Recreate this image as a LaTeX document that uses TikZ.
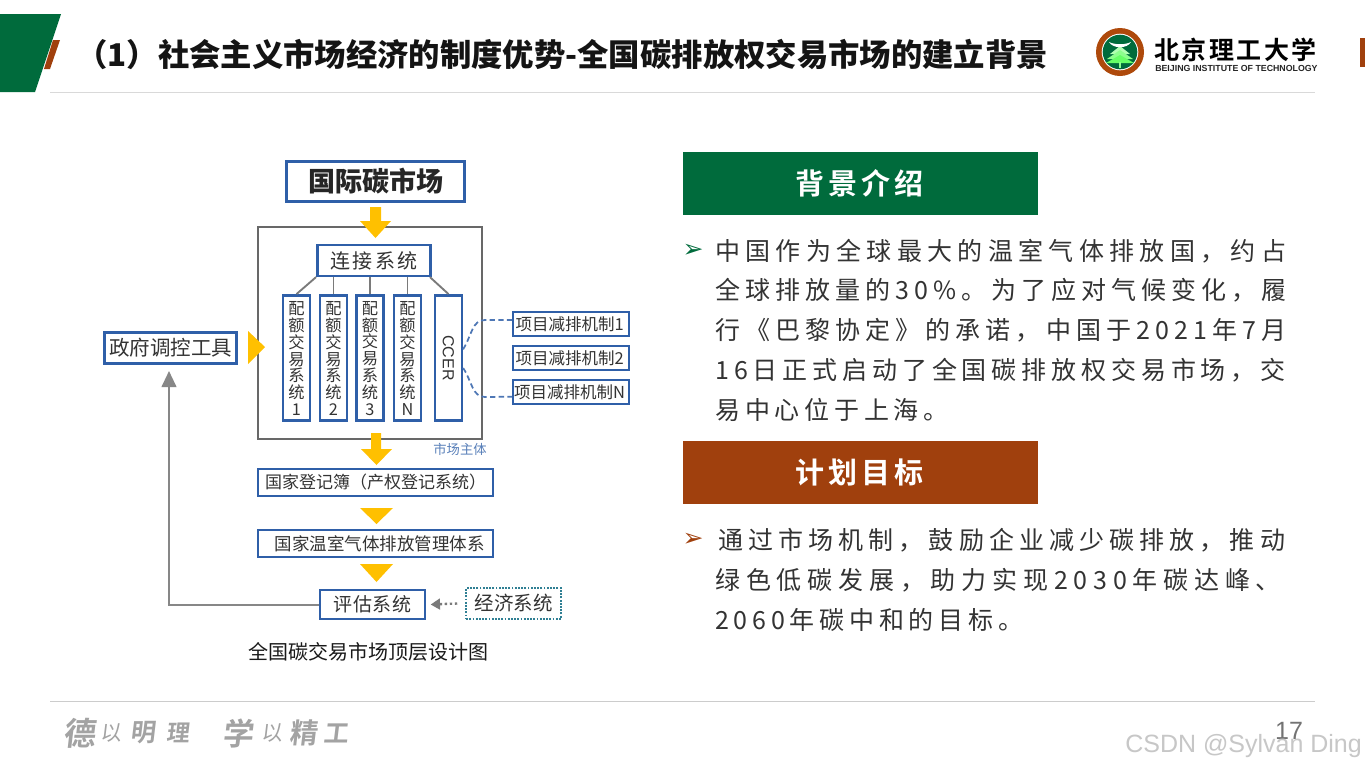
\documentclass[tikz,border=0pt]{standalone}
\usepackage{fontspec}
\usetikzlibrary{arrows.meta}
\setmainfont{Noto Sans CJK SC}
\newfontfamily\bodyf{Noto Sans CJK SC}
\newfontfamily\tabf[LetterSpace=13,BoldFont={Noto Sans CJK SC Bold}]{Noto Sans CJK SC}
\newfontfamily\brushf[FakeSlant=0.12,BoldFont={Noto Sans CJK SC Bold}]{Noto Sans CJK SC}
\newfontfamily\logof[LetterSpace=10,BoldFont={Noto Sans CJK SC Bold}]{Noto Sans CJK SC}
\newfontfamily\latinf{Liberation Sans}
\newfontfamily\symf{DejaVu Sans}
\definecolor{bitgreen}{HTML}{006B3C}
\definecolor{bitbrown}{HTML}{A0400D}
\definecolor{boxblue}{HTML}{2F5FA8}
\definecolor{arrowyellow}{HTML}{FFC000}
\definecolor{linegray}{HTML}{7A7A7A}
\definecolor{dotteal}{HTML}{2F7F93}
\definecolor{inkgray}{HTML}{333333}
\newcommand{\px}[1]{\fontsize{\fpeval{#1*0.75}pt}{\fpeval{#1*0.75*1.05}pt}\selectfont}
\newcommand{\lsp}[1]{\addfontfeature{LetterSpace=#1}}
\tikzset{
  x=0.75pt,y=-0.75pt,
  bluebox/.style={draw=boxblue,line width=1.9pt,fill=white,inner sep=0pt,align=center,text=inkgray},
  colbox/.style={bluebox,minimum width=20pt,minimum height=94pt},
  coltext/.style={inner sep=0pt,align=center,text=inkgray,font=\fontsize{12.2pt}{12.7pt}\selectfont},
  mechbox/.style={bluebox,line width=1.6pt,minimum width=86.6pt,minimum height=17.6pt,font=\px{16.5}},
  widebox/.style={bluebox,line width=1.4pt,minimum width=176pt,minimum height=20.25pt},
  link/.style={draw=linegray,line width=1.4pt},
  yellowshape/.style={fill=arrowyellow,draw=none},
  bodyline/.style={anchor=west,inner sep=0pt,font=\bodyf\px{25},text=inkgray},
  tabbox/.style={inner sep=0pt,minimum width=266.25pt,minimum height=47pt,text=white,font=\tabf\bfseries\px{29}},
  dashlink/.style={draw=boxblue!85,line width=1.3pt,dash pattern=on 4pt off 2.5pt},
  brush/.style={inner sep=0pt,text=black!36}
}
\begin{document}
\begin{tikzpicture}
\useasboundingbox (0,0) rectangle (1365,768);
\fill[white] (0,0) rectangle (1365,768);
% header
\fill[bitgreen] (0,14) -- (61,14) -- (35,92) -- (0,92) -- cycle;
\fill[bitbrown] (53,40) -- (60,40) -- (50,69) -- (44,69) -- cycle;
\fill[bitbrown] (1360,38) rectangle (1365,67);
\draw[black!15,line width=0.75pt] (50,92.5) -- (1315,92.5);
\draw[black!20,line width=0.75pt] (50,701.5) -- (1315,701.5);
\node[anchor=west,inner sep=0pt,font=\bfseries\px{31.35},text=black!92] (title) at (76,54) {（1）社会主义市场经济的制度优势-全国碳排放权交易市场的建立背景};
% logo
\fill[bitbrown!85!orange] (1120,52) circle (24);
\fill[white] (1120,52) circle (18.3);
\fill[bitgreen] (1120,52) circle (17.3);
\fill[green!30!white] (1120,46) -- (1110,54) -- (1130,54) -- cycle;
\fill[green!45!white] (1120,50) -- (1107,59) -- (1133,59) -- cycle;
\fill[green!60!white] (1120,55) -- (1106,63) -- (1134,63) -- cycle;
\fill[green!45!white] (1118.8,62) rectangle (1121.2,68);
\fill[white] (1109,42) .. controls (1115,45) and (1125,45) .. (1131,42) .. controls (1127,49) and (1113,49) .. (1109,42) -- cycle;
\node[anchor=west,inner sep=0pt,font=\logof\bfseries\px{25},text=black] (logotext) at (1154,50) {北京理工大学};
\node[anchor=west,inner sep=0pt,font=\latinf\bfseries\px{8.8},text=black!85] (logolatin) at (1155,68.5) {BEIJING INSTITUTE OF TECHNOLOGY};
% diagram
\node[bluebox,line width=2.2pt,minimum width=133.5pt,minimum height=30pt,font=\bfseries\px{27},text=black!85] (intl) at (375.5,181.5) {国际碳市场};
\node[draw=linegray!85!black,line width=1.5pt,minimum width=168.6pt,minimum height=159.6pt,inner sep=0pt] (market) at (370,333) {};
\node[bluebox,minimum width=85pt,minimum height=23pt,font=\px{20}] (connect) at (374,260.5) {\lsp{12}连接系统};
\node[colbox] (c1) at (296.5,358) {};
\node[colbox] (c2) at (333.5,358) {};
\node[colbox] (c3) at (370,358) {};
\node[colbox] (c4) at (407.5,358) {};
\node[coltext] (t1) at (296.5,358.5) {配\\额\\交\\易\\系\\统\\1};
\node[coltext] (t2) at (333.5,358.5) {配\\额\\交\\易\\系\\统\\2};
\node[coltext] (t3) at (370,358.5) {配\\额\\交\\易\\系\\统\\3};
\node[coltext] (t4) at (407.5,358.5) {配\\额\\交\\易\\系\\统\\N};
\node[colbox,font=\latinf\px{16}] (ccer) at (448.5,358) {\rotatebox{-90}{CCER}};
\draw[link] (connect.south west) -- (c1.north);
\draw[link] (connect.south -| c2.north) -- (c2.north);
\draw[link] (connect.south -| c3.north) -- (c3.north);
\draw[link] (connect.south -| c4.north) -- (c4.north);
\draw[link] ([xshift=-1.5pt]connect.south east) -- (ccer.north);
\node[mechbox] (m1) at (571,324) {项目减排机制1\hspace*{2pt}};
\node[mechbox] (m2) at (571,358) {项目减排机制2\hspace*{2pt}};
\node[mechbox] (mn) at (571,392) {项目减排机制N\hspace*{2pt}};
\draw[dashlink] ([yshift=6.5pt]ccer.east) .. controls (472,335) and (472,320) .. (485,320) -- ([yshift=3pt]m1.west);
\draw[dashlink] ([yshift=-7.5pt]ccer.east) .. controls (472,381) and (472,397) .. (485,397) -- ([yshift=-3.5pt]mn.west);
\node[inner sep=0pt,font=\px{13.3},text=boxblue!80!white] (subject) at (460,449.5) {市场主体};
\node[bluebox,minimum width=99pt,minimum height=23.25pt,font=\px{20.5},line width=2pt] (gov) at (170.5,348) {政府调控工具};
\node[widebox,font=\px{17}] (registry) at (375.5,482.5) {国家登记簿（产权登记系统）};
\node[widebox,font=\px{17.5}] (ghg) at (375.5,543.5) {\hspace*{6pt}国家温室气体排放管理体系};
\node[bluebox,line width=1.8pt,minimum width=78.4pt,minimum height=21.4pt,font=\px{19}] (assess) at (372.5,604.5) {\lsp{5}评估系统};
\node[draw=dotteal,line width=1.4pt,densely dotted,minimum width=71pt,minimum height=23pt,inner sep=0pt,font=\px{19.5},text=inkgray] (econ) at (513.5,603.5) {经济系统};
\coordinate (govin) at (169,371);
\draw[draw=linegray!90,line width=1.5pt,-{Triangle[length=12pt,width=11pt]}] (assess.west) -| (govin);
\draw[draw=linegray,line width=1.8pt,dotted,-{Triangle[length=7pt,width=8pt]}] (econ.west)++(-8,0) -- ([xshift=3.5pt]assess.east);
% yellow arrows
\fill[yellowshape] (370,207) -- (381,207) -- (381,221) -- (391,221) -- (375.5,238) -- (360,221) -- (370,221) -- cycle;
\fill[yellowshape] (371,433) -- (381,433) -- (381,449) -- (392,449) -- (376.5,465) -- (361,449) -- (371,449) -- cycle;
\fill[yellowshape] (248,331) -- (265,347) -- (248,364) -- cycle;
\fill[yellowshape] (360,508) -- (393,508) -- (376.5,524) -- cycle;
\fill[yellowshape] (360,564) -- (393,564) -- (376.5,582) -- cycle;
\node[inner sep=0pt,font=\px{20},text=black!90] (caption) at (368.5,652) {全国碳交易市场顶层设计图};
% right column
\node[tabbox,fill=bitgreen] (tab1) at (860.5,183.5) {\raisebox{-0.75pt}{背景介绍}\hspace*{1.5pt}};
\node[tabbox,fill=bitbrown] (tab2) at (860.5,472.5) {\raisebox{-0.75pt}{计划目标}\hspace*{1.5pt}};
\node[inner sep=0pt,font=\symf\px{25},text=bitgreen] (b1) at (693,251) {➢};
\node[bodyline] (l1) at (715,251) {\lsp{21.3}中国作为全球最大的温室气体排放国，约占};
\node[bodyline] (l2) at (715,290) {\lsp{20.2}全球排放量的30\%。为了应对气候变化，履};
\node[bodyline] (l3) at (715,330) {\lsp{20.3}行《巴黎协定》的承诺，中国于2021年7月};
\node[bodyline] (l4) at (715,370) {\lsp{19.5}16日正式启动了全国碳排放权交易市场，交};
\node[bodyline] (l5) at (715,410) {\lsp{19}易中心位于上海。};
\node[inner sep=0pt,font=\symf\px{25},text=bitbrown] (b2) at (693,540) {➢};
\node[bodyline] (l6) at (718,540) {\lsp{20.4}通过市场机制，鼓励企业减少碳排放，推动};
\node[bodyline] (l7) at (715,580) {\lsp{23.2}绿色低碳发展，助力实现2030年碳达峰、};
\node[bodyline] (l8) at (715,620) {\lsp{19}2060年碳中和的目标。};
% footer motto
\node[brush,font=\brushf\bfseries\px{32}] (f1) at (79,733) {德};
\node[brush,font=\brushf\px{21}] (f2) at (111,733) {以};
\node[brush,font=\brushf\bfseries\px{25}] (f3) at (143,733) {明};
\node[brush,font=\brushf\bfseries\px{23}] (f4) at (178,733) {理};
\node[brush,font=\brushf\bfseries\px{31}] (f5) at (238,733) {学};
\node[brush,font=\brushf\px{21}] (f6) at (272,733) {以};
\node[brush,font=\brushf\bfseries\px{28}] (f7) at (303,733) {精};
\node[brush,font=\brushf\bfseries\px{25}] (f8) at (336,733) {工};
% page number + watermark
\node[inner sep=0pt,font=\latinf\px{25},text=black!55] (page) at (1289,731) {17};
\node[anchor=west,inner sep=0pt,font=\latinf\px{25},text=black!22] (mark) at (1125,746) {CSDN @Sylvan Ding};
\end{tikzpicture}
\end{document}
